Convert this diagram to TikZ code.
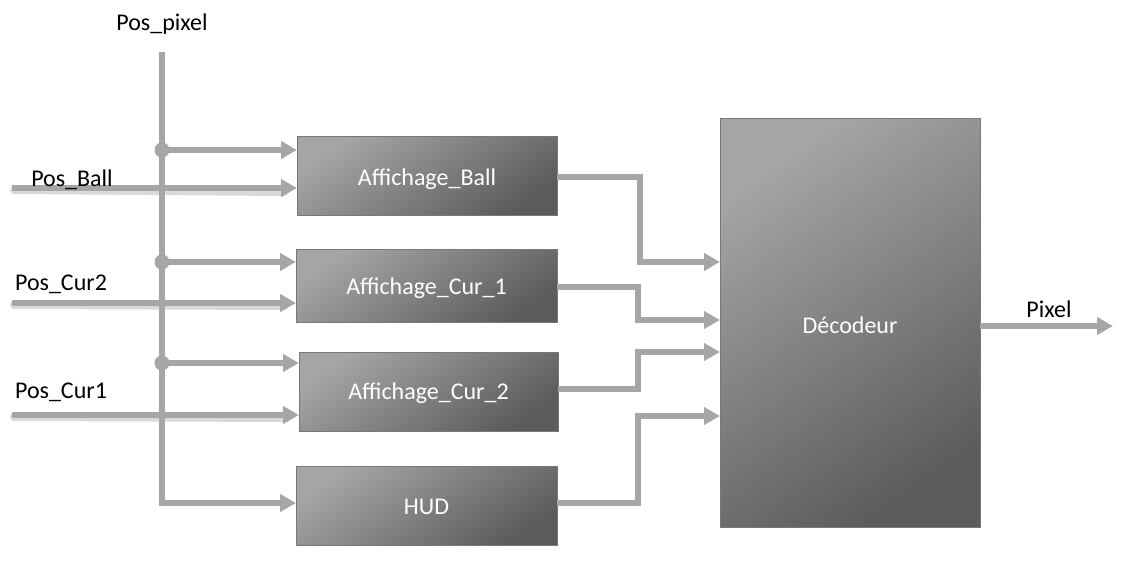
\documentclass[tikz,border=0pt]{standalone}
\usepackage{fontspec}
\setmainfont{Carlito}
\usetikzlibrary{arrows.meta}
\definecolor{wire}{RGB}{166,166,166}
\definecolor{boxtop}{RGB}{165,165,165}
\definecolor{boxbot}{RGB}{92,92,92}
\definecolor{boxedge}{RGB}{120,120,120}
\tikzset{
  blk/.style={draw=boxedge, line width=1pt, top color=boxtop, bottom color=boxbot, shading angle=35},
  blktext/.style={text=white, font=\fontsize{24}{28}\selectfont},
  wireln/.style={draw=wire, line width=6pt},
  arr/.style={wireln, -{Triangle[length=16pt,width=17pt]}},
  shadowln/.style={draw=black!15, line width=8pt, line cap=round},
  lbl/.style={font=\fontsize{24}{28}\selectfont, text=black},
  dotn/.style={circle, fill=wire, inner sep=0pt, minimum size=15pt}
}
\begin{document}
\begin{tikzpicture}[x=1pt,y=-1pt]
\useasboundingbox (0,0) rectangle (1130,567);
% boxes
\path[blk] (297,137) rectangle (557,215);
\node[blktext] (ball) at (427,179) {Affichage\_Ball};
\path[blk] (296,249) rectangle (557,322);
\node[blktext] (cur1) at (426.5,288) {Affichage\_Cur\_1};
\path[blk] (299,352) rectangle (558,431);
\node[blktext] (cur2) at (428.5,393.5) {Affichage\_Cur\_2};
\path[blk] (296,466) rectangle (557,545);
\node[blktext] (hud) at (426.5,507) {HUD};
\path[blk] (720,119) rectangle (980,527);
\node[blktext] (dec) at (850,325) {Décodeur};

% coordinates
\coordinate (busTop) at (162,52);
\coordinate (busBot) at (162,503);
\node[dotn] (d1) at (162,150) {};
\node[dotn] (d2) at (162,262) {};
\node[dotn] (d3) at (162,363) {};
\coordinate (in1) at (12,188);
\coordinate (in2) at (12,303);
\coordinate (in3) at (12,415);
\coordinate (pixEnd) at (1113,326);

% inputs with soft shadow
\draw[shadowln] (14,190) -- (284,192);
\draw[shadowln] (14,305) -- (284,306);
\draw[shadowln] (14,417) -- (286,418);
\draw[arr] (in1) -- (297,188);
\draw[arr] (in2) -- (296,303);
\draw[arr] (in3) -- (299,415);

% bus
\draw[arr] (busTop) -- (busBot) -- (296,503);
\draw[arr] (d1.center) -- (297,150);
\draw[arr] (d2.center) -- (296,262);
\draw[arr] (d3.center) -- (299,363);

% outputs
\draw[arr] (557,177) -- (640,177) -- (640,262) -- (720,262);
\draw[arr] (557,287) -- (638,287) -- (638,320) -- (720,320);
\draw[arr] (558,389) -- (638,389) -- (638,352) -- (720,352);
\draw[arr] (557,503) -- (638,503) -- (638,416) -- (720,416);
\draw[arr] (980,326) -- (pixEnd);

% labels
\node[lbl] (lpix) at (162,24) {Pos\_pixel};
\node[lbl] (lball) at (72,180) {Pos\_Ball};
\node[lbl] (lc2) at (61,284) {Pos\_Cur2};
\node[lbl] (lc1) at (61,392) {Pos\_Cur1};
\node[lbl] (lout) at (1049,309) {Pixel};
\end{tikzpicture}
\end{document}
